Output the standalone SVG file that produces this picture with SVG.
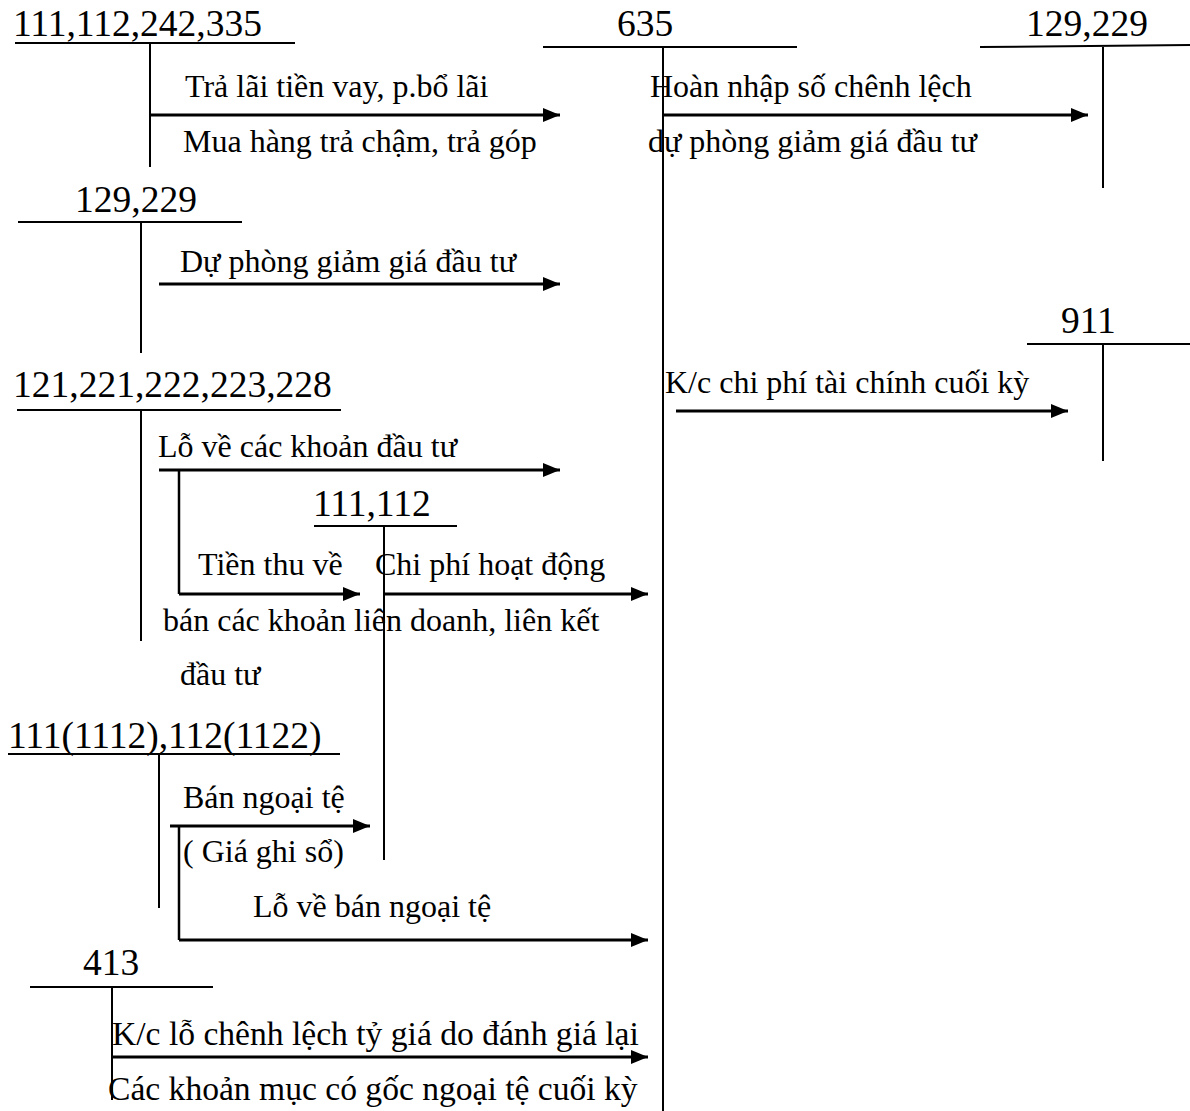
<svg xmlns="http://www.w3.org/2000/svg" width="1190" height="1111" viewBox="0 0 1190 1111">
  <style>
    .acct { font-family: "Liberation Serif", "Times New Roman", serif; font-size: 37.5px; fill: #000; }
    .lbl { font-family: "Liberation Serif", "Times New Roman", serif; font-size: 32px; fill: #000; }
    .lbl.wide { font-size: 33.6px; }
    .t { stroke: #000; stroke-width: 2; fill: none; }
    .arr { stroke: #000; stroke-width: 3; fill: none; marker-end: url(#head); }
    .leg { stroke: #000; stroke-width: 2.5; fill: none; }
  </style>
  <defs>
    <marker id="head" markerUnits="userSpaceOnUse" markerWidth="18" markerHeight="14" refX="17" refY="7" orient="auto">
      <path d="M0,0 L17,7 L0,14 z" fill="#000"/>
    </marker>
  </defs>
  <rect width="1190" height="1111" fill="#fff"/>

  <!-- T-accounts -->
  <g id="acc-111-112-242-335">
    <text class="acct" x="13" y="36">111,112,242,335</text>
    <line class="t" x1="15" y1="43" x2="295" y2="43"/>
    <line class="t" x1="150" y1="43" x2="150" y2="167"/>
  </g>
  <g id="acc-635">
    <text class="acct" x="617" y="36">635</text>
    <line class="t" x1="543" y1="47" x2="797" y2="47"/>
    <line class="t" x1="663" y1="47" x2="663" y2="1111"/>
  </g>
  <g id="acc-129-229-right">
    <text class="acct" x="1026" y="36">129,229</text>
    <line class="t" x1="980" y1="47" x2="1190" y2="45"/>
    <line class="t" x1="1103" y1="47" x2="1103" y2="188"/>
  </g>
  <g id="acc-129-229-left">
    <text class="acct" x="75" y="212">129,229</text>
    <line class="t" x1="18" y1="222" x2="242" y2="222"/>
    <line class="t" x1="141" y1="222" x2="141" y2="353"/>
  </g>
  <g id="acc-911">
    <text class="acct" x="1061" y="333">911</text>
    <line class="t" x1="1027" y1="344" x2="1190" y2="344"/>
    <line class="t" x1="1103" y1="344" x2="1103" y2="461"/>
  </g>
  <g id="acc-121-228">
    <text class="acct" x="13" y="397">121,221,222,223,228</text>
    <line class="t" x1="17" y1="410" x2="341" y2="410"/>
    <line class="t" x1="141" y1="410" x2="141" y2="641"/>
  </g>
  <g id="acc-111-112">
    <text class="acct" x="313" y="516">111,112</text>
    <line class="t" x1="314" y1="526" x2="457" y2="526"/>
    <line class="t" x1="384" y1="526" x2="384" y2="860"/>
  </g>
  <g id="acc-1112-1122">
    <text class="acct" x="8" y="748">111(1112),112(1122)</text>
    <line class="t" x1="8" y1="754" x2="340" y2="754"/>
    <line class="t" x1="159" y1="754" x2="159" y2="908"/>
  </g>
  <g id="acc-413">
    <text class="acct" x="83" y="975">413</text>
    <line class="t" x1="30" y1="987" x2="213" y2="987"/>
    <line class="t" x1="112" y1="987" x2="112" y2="1100"/>
  </g>

  <!-- Connectors -->
  <g id="connectors">
    <line class="arr" x1="150" y1="115" x2="560" y2="115"/>
    <line class="arr" x1="663" y1="115" x2="1088" y2="115"/>
    <line class="arr" x1="159" y1="284" x2="560" y2="284"/>
    <line class="arr" x1="676" y1="411" x2="1068" y2="411"/>
    <line class="arr" x1="159" y1="470" x2="560" y2="470"/>
    <line class="leg" x1="179" y1="470" x2="179" y2="594"/>
    <line class="arr" x1="179" y1="594" x2="360" y2="594"/>
    <line class="arr" x1="384" y1="594" x2="648" y2="594"/>
    <line class="arr" x1="170" y1="826" x2="370" y2="826"/>
    <line class="leg" x1="179" y1="826" x2="179" y2="940"/>
    <line class="arr" x1="179" y1="940" x2="648" y2="940"/>
    <line class="arr" x1="112" y1="1057" x2="648" y2="1057"/>
  </g>

  <!-- Entry labels -->
  <g id="labels">
    <text class="lbl" x="185" y="97">Trả lãi tiền vay, p.bổ lãi</text>
    <text class="lbl" x="183" y="152">Mua hàng trả chậm, trả góp</text>
    <text class="lbl" x="650" y="97">Hoàn nhập số chênh lệch</text>
    <text class="lbl" x="648" y="152">dự phòng giảm giá đầu tư</text>
    <text class="lbl" x="180" y="272">Dự phòng giảm giá đầu tư</text>
    <text class="lbl" x="665" y="393">K/c chi phí tài chính cuối kỳ</text>
    <text class="lbl" x="158" y="457">Lỗ về các khoản đầu tư</text>
    <text class="lbl" x="198" y="575">Tiền thu về</text>
    <text class="lbl" x="375" y="575">Chi phí hoạt động</text>
    <text class="lbl" x="163" y="631">bán các khoản liên doanh, liên kết</text>
    <text class="lbl" x="180" y="685">đầu tư</text>
    <text class="lbl" x="183" y="808">Bán ngoại tệ</text>
    <text class="lbl" x="183" y="862">( Giá ghi sổ)</text>
    <text class="lbl" x="253" y="917">Lỗ về bán ngoại tệ</text>
    <text class="lbl wide" x="112" y="1045">K/c lỗ chênh lệch tỷ giá do đánh giá lại</text>
    <text class="lbl wide" x="108" y="1100">Các khoản mục có gốc ngoại tệ cuối kỳ</text>
  </g>
</svg>
